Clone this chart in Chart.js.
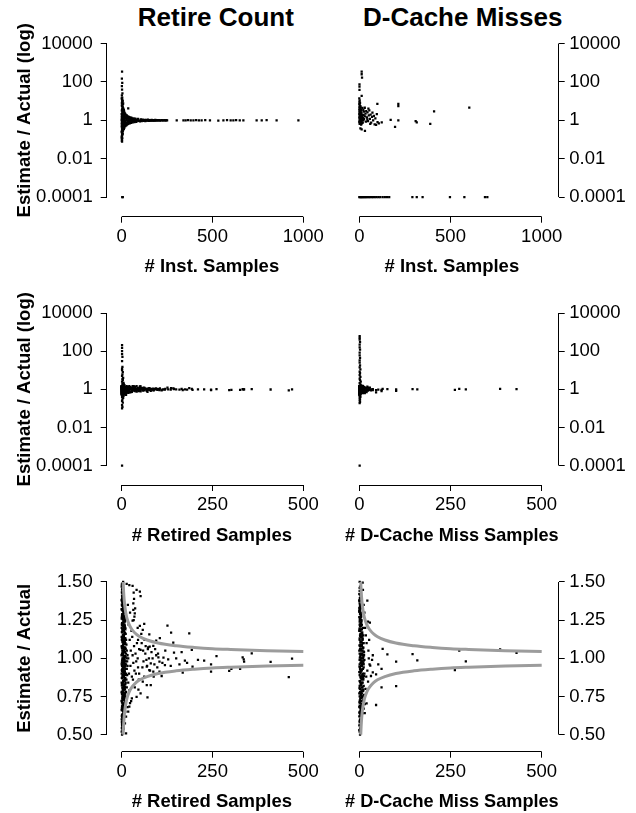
<!DOCTYPE html>
<html><head><meta charset="utf-8">
<script src="https://cdn.jsdelivr.net/npm/chart.js@4/dist/chart.umd.min.js"></script>
<style>
html,body{margin:0;padding:0;background:#fff;width:636px;height:813px;overflow:hidden;}
#fig{position:relative;width:636px;height:813px;background:#fff;}
canvas{position:absolute;}
.ttl{position:absolute;font:bold 26px "Liberation Sans",Arial,sans-serif;line-height:26px;text-align:center;width:300px;color:#000;white-space:nowrap;top:4.3px;}
</style></head>
<body><div id="fig">
<div class="ttl" style="left:65.8px">Retire Count</div>
<div class="ttl" style="left:312.7px">D-Cache Misses</div>
<canvas id="c1"></canvas><canvas id="c2"></canvas>
<canvas id="c3"></canvas><canvas id="c4"></canvas>
<canvas id="c5"></canvas><canvas id="c6"></canvas>
</div>
<script>
// ---------- tick labels ----------
const xTicksInst = [0, 500, 1000];
const xTicksSamples = [0, 250, 500];
const logTicks = [0.0001, 0.01, 1, 100, 10000];
const logTickLabels = ['0.0001', '0.01', '1', '100', '10000'];
const ratioTicks = [0.5, 0.75, 1, 1.25, 1.5];
const ratioTickLabels = ['0.50', '0.75', '1.00', '1.25', '1.50'];

// ---------- grey bound curves ----------
const boundX = [4, 4.5, 5, 6, 7, 8, 10, 12, 15, 20, 25, 30, 40, 50, 70, 100, 150, 200, 250, 300, 400, 500];
const boundUpper = [1.5, 1.471, 1.447, 1.408, 1.378, 1.354, 1.316, 1.289, 1.258, 1.224, 1.2, 1.183, 1.158, 1.141, 1.12, 1.1, 1.082, 1.071, 1.063, 1.058, 1.05, 1.045];
const boundLower = [0.5, 0.529, 0.553, 0.592, 0.622, 0.646, 0.684, 0.711, 0.742, 0.776, 0.8, 0.817, 0.842, 0.859, 0.88, 0.9, 0.918, 0.929, 0.937, 0.942, 0.95, 0.955];

// ---------- Retire Count vs # Inst. Samples ----------
const instColumn = [[2,340],[1,150],[3,90],[1,60],[2,40],[4,25],[1,20],[3,15],[2,12],[5,10],[1,8],[4,6.5],[2,5.5],[6,4.5],[3,3.8],[1,3.2],[5,2.7],[2,2.3],[7,2],[4,1.8],[1,1.6],[6,1.45],[3,1.3],[8,1.2],[2,1.1],[5,1.05],[9,1],[1,0.95],[4,0.9],[7,0.83],[2,0.77],[6,0.7],[3,0.63],[8,0.56],[1,0.5],[5,0.44],[2,0.38],[4,0.32],[1,0.27],[3,0.22],[2,0.18],[1,0.15],[3,0.12],[2,0.1],[1,0.085],[2,0.077],[3,9],[6,7],[8,3],[10,2.5],[9,1.5],[10,0.6],[9,0.4],[7,0.3],[5,0.2],[10,1.25],[10,0.8],[3,0.0001],[6,0.0001]];
const instColumn2 = [[0,14],[4,11],[8,7.5],[1,6],[5,5],[9,4],[2,3.4],[6,2.9],[10,2.4],[0,2.1],[3,1.9],[7,1.7],[11,1.55],[1,1.4],[5,1.35],[9,1.15],[0,1.08],[4,1.0],[8,0.97],[12,0.92],[2,0.86],[6,0.8],[10,0.74],[0,0.68],[4,0.6],[8,0.53],[1,0.47],[5,0.41],[9,0.36],[2,0.34],[6,0.28],[0,0.24],[4,0.2],[3,0.17],[0,0.13],[1,0.11],[12,1.3],[13,0.75],[15,1.6],[14,0.55],[11,2.1],[12,0.45]];
const instFunnel = [[12,3.5],[12,0.35],[14,2.8],[15,0.42],[18,2.3],[20,0.5],[22,2],[25,0.55],[28,1.8],[30,0.6],[33,1.6],[36,4.2],[36,0.65],[40,1.5],[44,0.7],[48,1.4],[52,0.74],[55,1.32],[60,0.78],[65,1.27],[70,0.8],[75,1.22],[80,0.83],[90,1.17],[100,0.87],[12,1.5],[16,0.7],[24,1.25],[32,0.85],[42,1.12],[50,0.9],[58,1.06],[66,0.95],[16,1.9],[20,0.8],[26,1.4],[38,0.78],[46,1.2],[54,0.88],[62,1.1],[72,0.92],[85,1.08],[95,0.94],[14,1.1],[18,0.9],[22,1.0],[28,1.05],[34,0.95],[40,1.0],[46,0.97],[56,1.02],[64,0.98],[78,1.03],[88,0.97],[11,1.8],[13,0.6],[17,1.45],[19,0.65],[21,1.3],[23,0.72],[27,1.55],[29,0.7],[31,1.25],[35,0.8],[37,1.35],[39,0.85],[43,1.2],[47,0.82],[51,1.18],[57,0.9],[61,1.15],[68,0.88],[74,1.12],[82,0.9]];
const instBand = [[105,1.12],[110,0.9],[115,1.08],[120,0.93],[125,1.06],[130,0.92],[135,1.05],[140,0.95],[145,1.07],[150,0.94],[155,1.03],[160,0.96],[165,1.05],[170,0.97],[175,1.02],[180,0.96],[185,1.04],[190,0.98],[195,1.02],[200,1.0],[210,0.97],[220,1.03],[228,0.99],[235,1.01],[242,0.98],[250,1.0],[102,0.95],[108,1.04],[112,0.98],[118,1.02],[122,0.97],[128,1.03],[132,0.99],[138,1.01],[142,0.98],[148,1.02],[152,0.99],[158,1.01],[162,1.0],[168,1.02],[172,0.99],[178,1.01],[182,1.0],[188,1.0],[198,0.99],[205,1.01],[215,1.0],[225,1.0],[238,1.0],[246,1.01]];
const instTail = [[303,1.0],[340,0.99],[352,1.0],[365,1.01],[380,0.98],[395,1.0],[410,1.01],[425,0.99],[440,1.0],[460,1.02],[486,0.99],[532,0.97],[560,1.0],[580,1.01],[600,0.99],[615,1.0],[630,1.02],[650,1.0],[670,0.99],[743,1.0],[771,1.0],[798,1.01],[853,1.0],[973,1.0]];

// ---------- D-Cache Misses vs # Inst. Samples ----------
const dcInstHigh = [[13,340],[13,250],[15,165],[1,75],[1,56],[1,38],[13,18.6]];
const dcInstCluster = [[0,14],[2,11],[1,9],[4,8],[0,7],[3,6],[6,5.5],[1,5],[8,4.6],[2,4.2],[5,3.9],[0,3.6],[10,3.4],[3,3.1],[7,2.9],[1,2.7],[12,2.6],[4,2.4],[9,2.3],[0,2.1],[15,2.0],[6,1.9],[2,1.8],[11,1.7],[18,1.65],[4,1.55],[8,1.5],[0,1.4],[14,1.35],[20,1.3],[3,1.25],[10,1.2],[6,1.1],[16,1.05],[1,1.0],[22,0.98],[8,0.93],[4,0.88],[13,0.84],[0,0.8],[19,0.75],[6,0.72],[2,0.66],[10,0.6],[25,2.8],[24,1.9],[26,1.15],[22,3.5],[17,4.4],[14,0.7],[30,4.5],[34,2.2],[38,3.0],[42,1.4],[45,2.6],[48,0.9],[52,1.8],[55,3.3],[58,1.2],[62,2.0],[65,0.75],[70,1.5],[72,2.5],[76,1.0],[80,1.7],[84,0.62],[88,1.25],[92,0.58],[96,2.1],[100,0.8],[107,0.69],[123,0.79],[36,0.85],[60,0.65],[44,1.1],[32,1.6],[50,4.0]];
const dcInstSparse = [[99,7.1],[214,7.1],[214,5.4],[410,2.95],[603,4.6],[172,1.05],[214,1.0],[309,0.91],[315,0.79],[389,0.65],[196,0.45],[6,0.38],[13,0.34],[31,0.28]];
const dcInstZeroRow = [[0,0.0001],[5,0.0001],[10,0.0001],[15,0.0001],[20,0.0001],[26,0.0001],[32,0.0001],[38,0.0001],[45,0.0001],[52,0.0001],[60,0.0001],[68,0.0001],[76,0.0001],[85,0.0001],[95,0.0001],[105,0.0001],[115,0.0001],[128,0.0001],[140,0.0001],[152,0.0001],[164,0.0001],[291,0.0001],[315,0.0001],[347,0.0001],[497,0.0001],[576,0.0001],[689,0.0001],[702,0.0001]];

// ---------- Retire Count vs # Retired Samples ----------
const retiredColumn = [[1,0.50],[3,0.51],[2,0.53],[5,0.54],[1,0.56],[4,0.57],[2,0.59],[6,0.60],[3,0.62],[1,0.63],[7,0.64],[4,0.66],[2,0.67],[8,0.68],[5,0.69],[3,0.70],[1,0.71],[9,0.72],[6,0.73],[2,0.74],[10,0.75],[4,0.76],[7,0.77],[1,0.78],[12,0.78],[5,0.79],[3,0.80],[9,0.81],[14,0.81],[6,0.82],[2,0.83],[11,0.84],[8,0.85],[4,0.85],[13,0.86],[1,0.87],[10,0.87],[6,0.88],[15,0.89],[3,0.89],[12,0.90],[8,0.91],[5,0.91],[2,0.92],[14,0.93],[10,0.93],[7,0.94],[4,0.94],[16,0.95],[1,0.95],[12,0.96],[9,0.96],[6,0.97],[3,0.97],[15,0.98],[11,0.98],[8,0.99],[5,0.99],[2,1.00],[13,1.00],[18,1.00],[10,1.01],[7,1.01],[4,1.02],[16,1.02],[1,1.03],[12,1.03],[9,1.04],[6,1.04],[14,1.05],[3,1.05],[11,1.06],[8,1.07],[5,1.07],[2,1.08],[13,1.09],[10,1.10],[7,1.10],[4,1.11],[1,1.12],[12,1.12],[9,1.13],[6,1.14],[3,1.15],[11,1.16],[8,1.17],[5,1.18],[2,1.19],[10,1.20],[7,1.21],[4,1.22],[1,1.23],[9,1.24],[6,1.25],[3,1.26],[8,1.27],[5,1.28],[2,1.29],[7,1.30],[4,1.31],[1,1.32],[6,1.33],[3,1.34],[5,1.36],[2,1.37],[4,1.38],[1,1.39],[3,1.41],[6,1.42],[2,1.43],[4,1.44],[1,1.45],[3,1.46],[2,1.48],[1,1.49],[4,1.50]];
const retiredCore = [[0,0.60],[4,0.61],[8,0.62],[2,0.63],[6,0.64],[10,0.65],[0,0.66],[4,0.67],[8,0.68],[2,0.69],[6,0.70],[10,0.71],[0,0.72],[4,0.73],[8,0.74],[2,0.75],[6,0.76],[10,0.77],[0,0.78],[4,0.79],[8,0.80],[2,0.81],[6,0.82],[10,0.83],[0,0.84],[4,0.85],[8,0.86],[2,0.87],[6,0.88],[10,0.89],[0,0.90],[4,0.91],[8,0.92],[2,0.93],[6,0.94],[10,0.95],[0,0.96],[4,0.97],[8,0.98],[2,0.99],[6,1.00],[10,1.01],[0,1.02],[4,1.03],[8,1.04],[2,1.05],[6,1.06],[10,1.07],[0,1.08],[4,1.09],[8,1.10],[2,1.11],[6,1.12],[10,1.13],[0,1.14],[4,1.15],[8,1.16],[2,1.17],[6,1.18],[10,1.19],[0,1.20],[4,1.21],[8,1.22],[2,1.23],[6,1.24],[10,1.25],[0,1.26],[4,1.27],[8,1.28],[2,1.29],[6,1.30],[0,1.32],[4,1.33],[2,1.35],[6,1.36],[0,1.38],[3,1.40],[1,0.615],[5,0.625],[9,0.645],[3,0.655],[7,0.675],[1,0.685],[5,0.705],[9,0.715],[3,0.735],[7,0.745],[1,0.765],[5,0.775],[9,0.795],[3,0.805],[7,0.825],[1,0.835],[5,0.855],[9,0.865],[3,0.885],[7,0.895],[1,0.915],[5,0.925],[9,0.945],[3,0.955],[7,0.975],[1,0.985],[5,1.005],[9,1.015],[3,1.035],[7,1.045],[1,1.065],[5,1.075],[9,1.095],[3,1.105],[7,1.125],[1,1.135],[5,1.155],[9,1.165],[3,1.185],[7,1.195],[1,1.215],[5,1.225],[9,1.245],[3,1.255],[7,1.275],[1,1.285],[5,1.305],[3,1.315],[1,1.345],[5,1.355],[2,1.375],[1,1.41],[2,1.43],[0,1.47],[0,0.52],[2,0.55],[1,0.57],[3,0.585]];
const retiredCore2 = [[0.5,0.622],[4.5,0.642],[8.5,0.662],[2.5,0.682],[6.5,0.702],[0.5,0.722],[4.5,0.742],[8.5,0.762],[2.5,0.782],[6.5,0.802],[0.5,0.822],[4.5,0.842],[8.5,0.862],[2.5,0.882],[6.5,0.902],[0.5,0.922],[4.5,0.942],[8.5,0.962],[2.5,0.982],[6.5,1.002],[0.5,1.022],[4.5,1.042],[8.5,1.062],[2.5,1.082],[6.5,1.102],[0.5,1.122],[4.5,1.142],[8.5,1.162],[2.5,1.182],[6.5,1.202],[0.5,1.222],[4.5,1.242],[8.5,1.262],[2.5,1.282],[6.5,1.302],[0.5,1.322],[4.5,1.342],[2.5,1.362],[0.5,1.382],[1.5,1.402],[0.5,1.432],[1.5,1.452],[0.5,1.482],[2.5,0.632],[6.5,0.652],[0.5,0.672],[4.5,0.692],[8.5,0.712],[2.5,0.732],[6.5,0.752],[0.5,0.772],[4.5,0.792],[8.5,0.812],[2.5,0.832],[6.5,0.852],[0.5,0.872],[4.5,0.892],[8.5,0.912],[2.5,0.932],[6.5,0.952],[0.5,0.972],[4.5,0.992],[8.5,1.012],[2.5,1.032],[6.5,1.052],[0.5,1.072],[4.5,1.092],[8.5,1.112],[2.5,1.132],[6.5,1.152],[0.5,1.172],[4.5,1.192],[8.5,1.212],[2.5,1.232],[6.5,1.252],[0.5,1.272],[4.5,1.292],[2.5,1.312],[0.5,1.352],[3.5,1.372],[0.5,0.542],[1.5,0.562],[0.5,0.582],[2.5,0.602]];
const retiredFunnel = [[18,0.84],[20,0.90],[22,1.12],[24,0.95],[25,1.05],[27,1.18],[28,0.88],[30,1.02],[32,0.97],[34,1.08],[35,0.92],[38,1.03],[40,0.98],[19,1.22],[21,0.79],[23,1.3],[26,0.72],[17,1.35],[16,0.68],[29,1.14],[31,0.86],[33,1.25],[36,0.81],[42,1.1],[45,0.94],[48,1.06],[44,1.0],[39,0.9],[45,1.12],[55,1.1],[60,0.98],[65,1.03],[70,0.95],[75,1.0],[82,1.04],[90,0.96],[95,1.02],[48,0.9],[54,1.16],[62,0.88],[66,1.08],[78,0.92],[85,1.0],[92,1.06],[98,0.94],[44,1.2],[47,0.86],[57,0.94],[63,1.12],[68,0.99],[72,1.06],[88,0.88],[100,1.03],[112,0.97],[120,1.05],[135,0.95],[150,1.0],[165,1.04],[180,0.97],[210,0.99]];
const retiredScatter = [[13.7,1.487],[21,1.48],[30,1.474],[41,1.448],[50,1.437],[52,1.408],[33,1.43],[34,1.389],[32,1.36],[37,1.327],[32,1.317],[36,1.295],[35,1.273],[30,1.247],[50,1.212],[62,1.225],[58,1.186],[76,1.157],[126,1.214],[136,1.168],[186,1.164],[142,1.103],[193,1.055],[105,1.132],[95,1.116],[77,1.077],[52,1.055],[59,1.05],[73,1.072],[87,1.081],[144,1.037],[115,1.004],[128,0.993],[101,1.006],[104,0.978],[119,0.956],[159,0.96],[174,0.984],[227,0.984],[261,1.015],[246,0.96],[246,0.912],[168,0.906],[296,0.918],[302,0.931],[333,1.006],[337,0.978],[336,0.993],[358,1.032],[326,0.931],[410,0.976],[469,0.998],[460,0.876],[195,0.945],[110,0.884],[104,0.913],[69,0.945],[76,0.923],[87,0.913],[80,0.967],[69,0.825],[80,0.825],[58,0.847],[50,0.858],[71,0.744],[46,0.795],[52,0.77],[41,0.748],[28,0.738],[23,0.706],[21,0.684],[18,0.651],[12,0.618],[9,0.574],[6,0.541],[12,0.508]];
const retiredOutliers = [[1,210],[1,150],[1,100],[1,70],[2,50],[1,30],[2,15],[1,12],[1,10],[3,8],[2,6],[1,5],[4,4],[2,3.5],[3,3],[1,2.5],[5,2.2],[2,2],[6,1.8],[3,1.7],[8,1.6],[4,1.55],[1,0.1],[2,0.12],[1,0.15],[3,0.2],[1,0.25],[2,0.3],[4,0.35],[1,0.4],[5,0.45],[3,0.48],[1,0.0001]];

// ---------- D-Cache Misses vs # D-Cache Miss Samples ----------
const dmissColumn = [[1,1.50],[2,1.47],[1,1.44],[3,1.41],[1,1.38],[2,1.35],[4,1.33],[1,1.31],[3,1.29],[5,1.27],[2,1.25],[6,1.24],[1,1.22],[4,1.21],[7,1.19],[3,1.18],[8,1.16],[2,1.15],[5,1.14],[9,1.13],[1,1.12],[6,1.11],[10,1.10],[3,1.09],[7,1.08],[11,1.07],[2,1.06],[4,1.05],[8,1.05],[12,1.04],[1,1.03],[5,1.03],[9,1.02],[13,1.02],[3,1.01],[6,1.00],[10,1.00],[2,0.99],[14,0.99],[7,0.98],[4,0.97],[11,0.97],[1,0.96],[8,0.96],[5,0.95],[12,0.94],[2,0.93],[9,0.93],[6,0.92],[3,0.91],[10,0.90],[1,0.89],[7,0.88],[4,0.87],[11,0.86],[2,0.85],[8,0.84],[5,0.83],[1,0.82],[9,0.81],[3,0.80],[6,0.79],[2,0.78],[7,0.77],[4,0.76],[1,0.75],[5,0.74],[3,0.73],[8,0.72],[2,0.71],[6,0.70],[1,0.69],[4,0.68],[3,0.67],[5,0.66],[2,0.65],[1,0.64],[4,0.63],[3,0.62],[2,0.60],[1,0.58],[3,0.56],[2,0.54],[1,0.52],[2,0.50]];
const dmissCore = [[0,0.62],[5,0.63],[10,0.64],[2,0.65],[7,0.66],[12,0.67],[0,0.68],[4,0.69],[9,0.70],[1,0.71],[6,0.72],[11,0.73],[3,0.74],[8,0.75],[13,0.76],[0,0.77],[5,0.78],[10,0.79],[2,0.80],[7,0.81],[12,0.82],[4,0.83],[9,0.84],[1,0.85],[6,0.86],[11,0.87],[3,0.88],[8,0.89],[14,0.90],[0,0.91],[5,0.92],[10,0.93],[2,0.94],[7,0.95],[12,0.96],[4,0.97],[9,0.98],[1,0.99],[6,1.00],[11,1.01],[3,1.02],[8,1.03],[13,1.04],[0,1.05],[5,1.06],[10,1.07],[2,1.08],[7,1.09],[12,1.10],[4,1.11],[9,1.12],[1,1.13],[6,1.14],[11,1.15],[3,1.16],[8,1.17],[0,1.18],[5,1.19],[10,1.20],[2,1.21],[7,1.22],[4,1.23],[1,1.24],[6,1.25],[3,1.26],[0,1.27],[5,1.28],[2,1.29],[4,1.30],[1,1.31],[3,1.32],[0,1.33],[2,1.34],[1,1.36],[0,1.38],[3,0.635],[8,0.675],[1,0.715],[6,0.755],[11,0.795],[4,0.835],[9,0.875],[2,0.915],[7,0.955],[12,0.985],[5,1.025],[10,1.065],[3,1.105],[8,1.145],[1,1.185],[6,1.215],[2,1.265],[0,1.305],[0,1.42],[1,1.46],[0,0.56],[1,0.59],[0,0.53]];
const dmissCore2 = [[0.5,0.645],[6.5,0.665],[3.5,0.685],[9.5,0.705],[1.5,0.725],[7.5,0.745],[4.5,0.765],[10.5,0.785],[0.5,0.805],[5.5,0.825],[2.5,0.845],[8.5,0.865],[12.5,0.885],[3.5,0.905],[6.5,0.925],[0.5,0.945],[9.5,0.965],[4.5,0.985],[1.5,1.005],[7.5,1.025],[11.5,1.045],[3.5,1.065],[0.5,1.085],[5.5,1.105],[8.5,1.125],[2.5,1.145],[6.5,1.165],[0.5,1.195],[3.5,1.225],[1.5,1.255],[4.5,1.285],[0.5,1.315],[2.5,1.345],[0.5,1.375],[1.5,1.395]];
const dmissScatter = [[9.2,1.496],[10,1.448],[22,1.378],[24,1.24],[29,1.234],[64,1.061],[77,1.026],[146,1.028],[159,0.987],[101,0.978],[274,1.05],[431,1.035],[292,0.98],[262,0.923],[52,0.96],[61,0.93],[46,0.895],[37,0.908],[32,0.884],[30,0.952],[35,0.99],[37,1.02],[24,0.847],[61,0.81],[101,0.818],[46,0.694],[20,0.705],[15,0.64],[386,1.058],[14,1.3],[16,1.2],[18,1.15],[12,1.35],[20,1.1],[13,0.75],[17,0.8],[19,0.88],[22,0.92],[25,1.05],[27,1.12],[15,0.7],[28,0.96],[26,1.0]];
const dmissOutliers = [[1,616],[1,500],[1,400],[2,300],[1,220],[1,160],[2,120],[1,85],[1,60],[2,45],[1,33],[1,25],[2,18],[1,14],[3,11],[1,8.5],[2,7],[1,5.5],[3,4.5],[1,3.6],[2,3],[4,2.5],[1,2.1],[3,1.8],[5,1.6],[1,0.19],[2,0.22],[1,0.26],[2,0.3],[1,0.35],[3,0.4],[1,0.45],[2,0.48],[1,0.0001]];

// ---------- assembly ----------
const FONT = '"Liberation Sans", Arial, Helvetica, sans-serif';
const toXY = arr => arr.map(p => ({x: p[0], y: p[1]}));
const inRatio = p => p[1] >= 0.5 && p[1] <= 1.5;

const instAll = [].concat(instColumn, instColumn2, instFunnel, instBand, instTail);
const dcInstAll = [].concat(dcInstHigh, dcInstCluster, dcInstSparse, dcInstZeroRow);
const retiredAll = [].concat(retiredColumn, retiredCore, retiredCore2, retiredFunnel, retiredScatter, retiredOutliers);
const dmissAll = [].concat(dmissColumn, dmissCore, dmissCore2, dmissScatter, dmissOutliers);

const LEFT = {cl: 0, cw: 330, padL: 0, padR: 13, yW: 106.7, yPos: 'left', labPad: 8};
const RIGHT = {cl: 318, cw: 318, padL: 27, padR: 0, yW: 77.3, yPos: 'right', labPad: 4.5};
const ROW1 = {ct: 0, ch: 279, padT: 23.9, xH: 62.3, tPad: 1.2};
const ROW2 = {ct: 280, ch: 267, padT: 13.6, xH: 62, tPad: 0.1};
const ROW3 = {ct: 550, ch: 263, padT: 14.9, xH: 61.3, tPad: 0.2};

const axisLines = {
  id: 'axisLines',
  afterDraw(chart) {
    const ctx = chart.ctx, a = chart.chartArea;
    const xs = chart.scales.x, ys = chart.scales.y;
    const al = p => Math.round(p - 0.5) + 0.5;
    ctx.save();
    ctx.strokeStyle = '#000';
    ctx.lineWidth = 1;
    ctx.beginPath();
    const yb = al(a.bottom);
    ctx.moveTo(xs.getPixelForValue(xs.ticks[0].value), yb);
    ctx.lineTo(xs.getPixelForValue(xs.ticks[xs.ticks.length - 1].value), yb);
    const xa = al(ys.position === 'right' ? a.right : a.left);
    ctx.moveTo(xa, ys.getPixelForValue(ys.ticks[0].value));
    ctx.lineTo(xa, ys.getPixelForValue(ys.ticks[ys.ticks.length - 1].value));
    ctx.stroke();
    ctx.restore();
  }
};

function panel(id, col, row, o) {
  const cv = document.getElementById(id);
  cv.width = col.cw; cv.height = row.ch;
  cv.style.left = col.cl + 'px'; cv.style.top = row.ct + 'px';
  cv.style.width = col.cw + 'px'; cv.style.height = row.ch + 'px';
  const datasets = [{
    type: 'scatter', data: toXY(o.points), pointStyle: 'rect', pointRadius: 1.6, pointBorderWidth: 0,
    pointBackgroundColor: '#000', backgroundColor: '#000', borderColor: '#000', order: 2
  }];
  if (o.curves) {
    [boundUpper, boundLower].forEach(arr => datasets.push({
      type: 'line', data: boundX.map((x, i) => ({x: x, y: arr[i]})), borderColor: '#9c9c9c',
      borderWidth: 3, pointRadius: 0, fill: false, cubicInterpolationMode: 'monotone', order: 1
    }));
  }
  const tickFont = {family: FONT, size: 18.5};
  const titleFont = {family: FONT, size: 18.5, weight: 'bold'};
  new Chart(cv, {
    type: 'scatter',
    data: {datasets},
    options: {
      responsive: false, animation: false, devicePixelRatio: 1, events: [],
      layout: {padding: {left: col.padL, right: col.padR, top: row.padT, bottom: 0}},
      plugins: {legend: {display: false}, tooltip: {enabled: false}, title: {display: false}},
      scales: {
        x: {
          type: 'linear', position: 'bottom', min: o.xMin, max: o.xMax, bounds: 'data',
          grid: {display: true, drawOnChartArea: false, drawTicks: true, tickLength: 6, color: '#000', lineWidth: 1},
          border: {display: false},
          afterBuildTicks: s => { s.ticks = o.xTicks.map(v => ({value: v})); },
          ticks: {font: tickFont, color: '#000', padding: 2.9, autoSkip: false, maxRotation: 0, minRotation: 0,
            callback: v => String(v)},
          title: {display: true, text: o.xTitle, font: titleFont, color: '#000', padding: {top: 0, bottom: row.tPad}},
          afterFit: s => { s.height = row.xH; s.paddingLeft = 0; s.paddingRight = 0; }
        },
        y: {
          type: o.yLog ? 'logarithmic' : 'linear', position: col.yPos, min: o.yMin, max: o.yMax, bounds: 'data',
          grid: {display: true, drawOnChartArea: false, drawTicks: true, tickLength: 6, color: '#000', lineWidth: 1},
          border: {display: false},
          afterBuildTicks: s => { s.ticks = o.yTicks.map(v => ({value: v})); },
          ticks: {font: tickFont, color: '#000', padding: col.labPad, autoSkip: false,
            callback: (v, i) => o.yLabels[i]},
          title: {display: !!o.yTitle, text: o.yTitle || '', font: titleFont, color: '#000', padding: {top: 13.9, bottom: 0}},
          afterFit: s => { s.width = col.yW; s.paddingTop = 0; s.paddingBottom = 0; }
        }
      }
    },
    plugins: [axisLines]
  });
}

const LOGMIN = Math.pow(10, -5.02), LOGMAX = Math.pow(10, 5.02);

panel('c1', LEFT, ROW1, {points: instAll, xMin: -82.6, xMax: 1075.4, xTicks: xTicksInst, xTitle: '# Inst. Samples',
  yLog: true, yMin: LOGMIN, yMax: LOGMAX, yTicks: logTicks, yLabels: logTickLabels, yTitle: 'Estimate / Actual (log)'});
panel('c2', RIGHT, ROW1, {points: dcInstAll, xMin: -78.4, xMax: 1093.2, xTicks: xTicksInst, xTitle: '# Inst. Samples',
  yLog: true, yMin: LOGMIN, yMax: LOGMAX, yTicks: logTicks, yLabels: logTickLabels});
panel('c3', LEFT, ROW2, {points: retiredAll, xMin: -41.3, xMax: 537.7, xTicks: xTicksSamples, xTitle: '# Retired Samples',
  yLog: true, yMin: LOGMIN, yMax: LOGMAX, yTicks: logTicks, yLabels: logTickLabels, yTitle: 'Estimate / Actual (log)'});
panel('c4', RIGHT, ROW2, {points: dmissAll, xMin: -39.2, xMax: 546.6, xTicks: xTicksSamples, xTitle: '# D-Cache Miss Samples',
  yLog: true, yMin: LOGMIN, yMax: LOGMAX, yTicks: logTicks, yLabels: logTickLabels});
panel('c5', LEFT, ROW3, {points: retiredAll.filter(inRatio), curves: true, xMin: -41.3, xMax: 537.7, xTicks: xTicksSamples, xTitle: '# Retired Samples',
  yLog: false, yMin: 0.388, yMax: 1.612, yTicks: ratioTicks, yLabels: ratioTickLabels, yTitle: 'Estimate / Actual'});
panel('c6', RIGHT, ROW3, {points: dmissAll.filter(inRatio), curves: true, xMin: -39.2, xMax: 546.6, xTicks: xTicksSamples, xTitle: '# D-Cache Miss Samples',
  yLog: false, yMin: 0.388, yMax: 1.612, yTicks: ratioTicks, yLabels: ratioTickLabels});
</script>
</body></html>
